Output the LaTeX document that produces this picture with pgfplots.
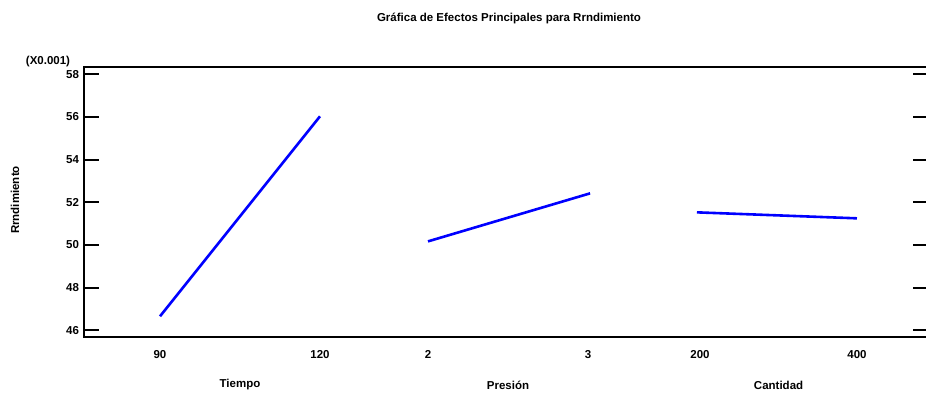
\documentclass[border=0pt]{standalone}
\usepackage{fontspec}
\setmainfont{Liberation Sans}
\usepackage{pgfplots}
\pgfplotsset{compat=1.18}
\begin{document}
\fontsize{11.5}{13}\selectfont\bfseries
\begin{tikzpicture}[x=1pt,y=1pt]
\useasboundingbox (-84,-57) rectangle (842,337);
\begin{axis}[
  at={(0,0)}, anchor=south west,
  scale only axis, width=844pt, height=270pt,
  xmin=-0.475, xmax=4.8,
  ymin=45.69, ymax=58.34,
  axis line style={line width=2.6pt},
  ytick={46,48,...,58},
  xtick={0,1,1.675,2.675,3.375,4.356},
  xticklabels={90,120,2,3,200,400},
  x tick style={draw=none},
  y tick style={line width=2.2pt,black},
  major tick length=15pt,
  tick align=inside,
  yticklabel style={xshift=-1pt},
  xticklabel style={yshift=-9pt},
  /pgf/number format/assume math mode=true,
  clip=false,
]
\addplot[blue, line width=2.6pt] coordinates {(0,46.66) (1,56.03)};
\addplot[blue, line width=2.6pt] coordinates {(1.675,50.17) (2.688,52.42)};
\addplot[blue, line width=2.6pt] coordinates {(3.356,51.53) (4.356,51.25)};
\node at (axis cs:0.5,45.69) [yshift=-48pt] {Tiempo};
\node at (axis cs:2.175,45.69) [yshift=-48pt] {Presión};
\node at (axis cs:3.866,45.69) [yshift=-48pt] {Cantidad};
\end{axis}
\node at (425,319) {Gráfica de Efectos Principales para Rrndimiento};
\node at (-36,275) {(X0.001)};
\node[rotate=90] at (-69,137) {Rrndimiento};
\end{tikzpicture}
\end{document}
